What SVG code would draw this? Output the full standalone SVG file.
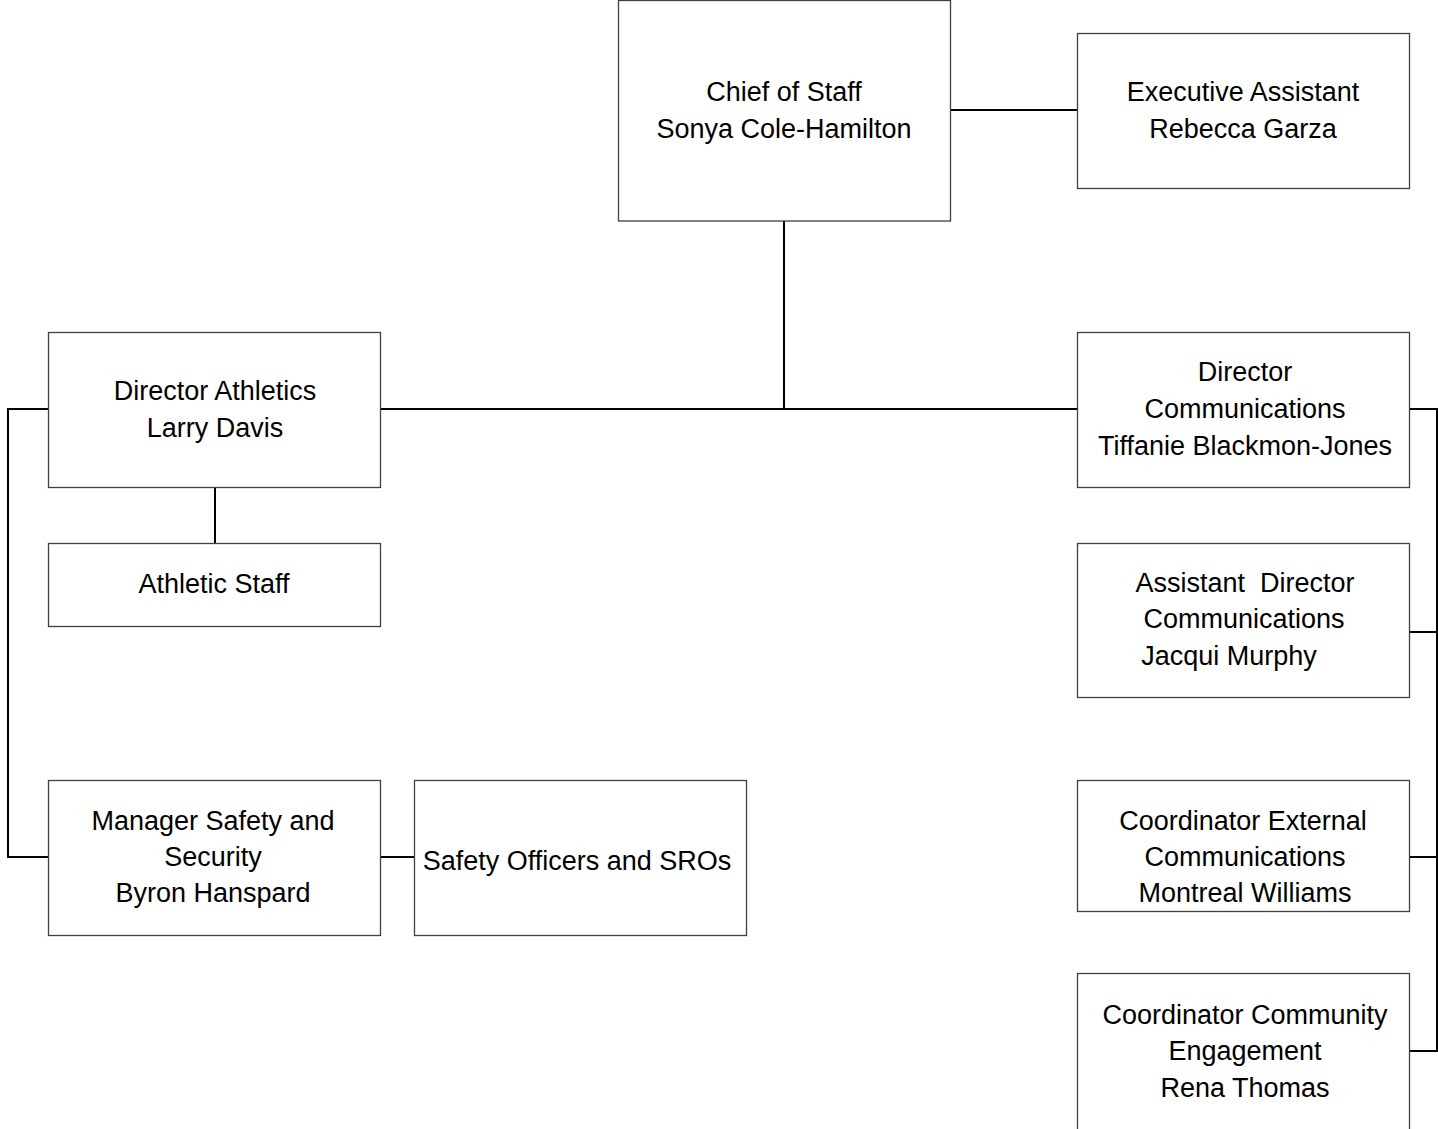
<svg xmlns="http://www.w3.org/2000/svg" width="1438" height="1129" viewBox="0 0 1438 1129">
  <style>
    .box { fill: #ffffff; stroke: #404040; stroke-width: 1.3; }
    .lbl { font-family: "Liberation Sans", Arial, sans-serif; font-size: 27px; fill: #000000; text-anchor: middle; }
    .wire { fill: none; stroke: #000000; stroke-width: 2; }
  </style>
  <rect width="1438" height="1129" fill="#ffffff"/>

  <!-- connectors -->
  <g id="connectors">
    <line class="wire" x1="950" y1="110" x2="1077" y2="110"/>
    <line class="wire" x1="784" y1="221" x2="784" y2="409"/>
    <line class="wire" x1="381" y1="409" x2="1077" y2="409"/>
    <polyline class="wire" points="48,409 8,409 8,857 48,857"/>
    <line class="wire" x1="215" y1="487" x2="215" y2="543"/>
    <line class="wire" x1="381" y1="857" x2="414" y2="857"/>
    <polyline class="wire" points="1410,409 1437,409 1437,1051 1410,1051"/>
    <line class="wire" x1="1410" y1="632" x2="1437" y2="632"/>
    <line class="wire" x1="1410" y1="857" x2="1437" y2="857"/>
  </g>

  <g id="chief-of-staff">
    <rect class="box" x="618.5" y="0.5" width="332" height="220.5"/>
    <text class="lbl" x="784" y="101">Chief of Staff</text>
    <text class="lbl" x="784" y="138">Sonya Cole-Hamilton</text>
  </g>

  <g id="executive-assistant">
    <rect class="box" x="1077.5" y="33.5" width="332" height="155"/>
    <text class="lbl" x="1243" y="101">Executive Assistant</text>
    <text class="lbl" x="1243" y="138">Rebecca Garza</text>
  </g>

  <g id="director-athletics">
    <rect class="box" x="48.5" y="332.5" width="332" height="155"/>
    <text class="lbl" x="215" y="400">Director Athletics</text>
    <text class="lbl" x="215" y="437">Larry Davis</text>
  </g>

  <g id="athletic-staff">
    <rect class="box" x="48.5" y="543.5" width="332" height="83"/>
    <text class="lbl" x="214" y="593">Athletic Staff</text>
  </g>

  <g id="manager-safety">
    <rect class="box" x="48.5" y="780.5" width="332" height="155"/>
    <text class="lbl" x="213" y="830">Manager Safety and</text>
    <text class="lbl" x="213" y="866">Security</text>
    <text class="lbl" x="213" y="902">Byron Hanspard</text>
  </g>

  <g id="safety-officers">
    <rect class="box" x="414.5" y="780.5" width="332" height="155"/>
    <text class="lbl" x="577" y="870">Safety Officers and SROs</text>
  </g>

  <g id="director-communications">
    <rect class="box" x="1077.5" y="332.5" width="332" height="155"/>
    <text class="lbl" x="1245" y="381">Director</text>
    <text class="lbl" x="1245" y="418">Communications</text>
    <text class="lbl" x="1245" y="455">Tiffanie Blackmon-Jones</text>
  </g>

  <g id="assistant-director">
    <rect class="box" x="1077.5" y="543.5" width="332" height="154"/>
    <text class="lbl" x="1245" y="592" xml:space="preserve">Assistant  Director</text>
    <text class="lbl" x="1244" y="628">Communications</text>
    <text class="lbl" x="1229" y="665">Jacqui Murphy</text>
  </g>

  <g id="coordinator-external">
    <rect class="box" x="1077.5" y="780.5" width="332" height="131"/>
    <text class="lbl" x="1243" y="830">Coordinator External</text>
    <text class="lbl" x="1245" y="866">Communications</text>
    <text class="lbl" x="1245" y="902">Montreal Williams</text>
  </g>

  <g id="coordinator-community">
    <rect class="box" x="1077.5" y="973.5" width="332" height="170"/>
    <text class="lbl" x="1245" y="1024">Coordinator Community</text>
    <text class="lbl" x="1245" y="1060">Engagement</text>
    <text class="lbl" x="1245" y="1097">Rena Thomas</text>
  </g>
</svg>
